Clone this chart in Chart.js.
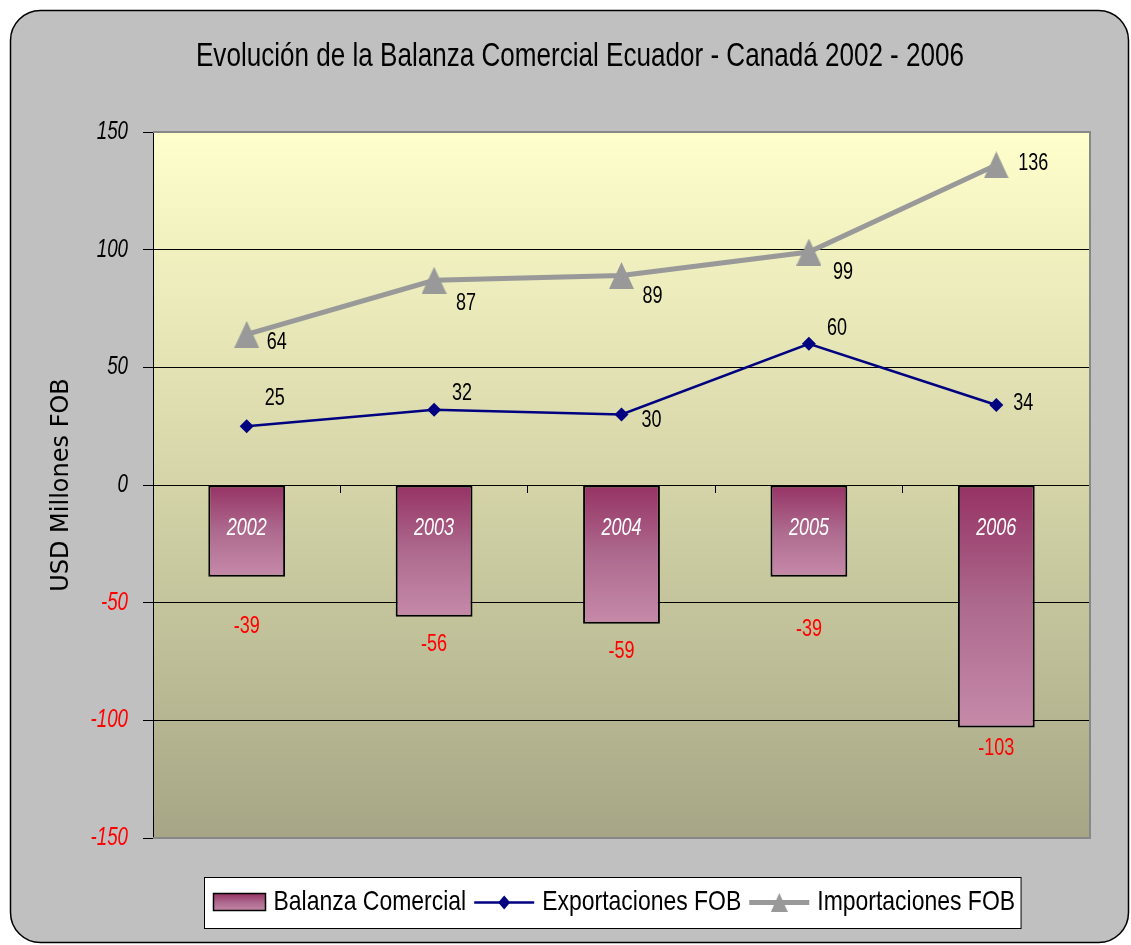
<!DOCTYPE html>
<html><head><meta charset="utf-8">
<script src="https://cdn.jsdelivr.net/npm/chart.js@4.4.0/dist/chart.umd.min.js"></script>
<style>html,body{margin:0;padding:0;background:#fff;}#wrap{width:1131px;height:945px;position:relative;}</style>
</head><body><div id="wrap"><canvas id="c" width="1131" height="945"></canvas></div>
<script>
// ---- data ----
const categories = ['2002', '2003', '2004', '2005', '2006'];
const balanza = [-39, -56, -59, -39, -103];
const exportaciones = [25, 32, 30, 60, 34];
const importaciones = [64, 87, 89, 99, 136];
const yTicks = [-150, -100, -50, 0, 50, 100, 150];
const seriesNames = ['Balanza Comercial', 'Exportaciones FOB', 'Importaciones FOB'];
const titleText = 'Evolución de la Balanza Comercial Ecuador - Canadá 2002 - 2006';
const yTitle = 'USD Millones FOB';

// ---- label placement offsets (px, relative to each drawn element) ----
const balLabelOffsetY = [50, 28, 28, 53, 21];
const expLabelOffset = [[28, -28], [28, -16], [30, 6], [28, -15], [27, -2]];
const impLabelOffset = [[30, 8], [32, 23], [31, 21], [34, 20], [37, -2]];

const SANS = "'Liberation Sans', Arial, sans-serif";
const SX = 0.75; // horizontal condensing to mimic a narrow face
const WIDE = "'DejaVu Sans', Verdana, sans-serif";
const NAVY = '#000080';
const GREY = '#999999';

function narrowFont(size, italic) { return (italic ? 'italic ' : '') + size + 'px ' + SANS; }
function narrowText(ctx, text, x, y, size, color, align, italic, sx) {
  ctx.save();
  ctx.font = narrowFont(size, italic);
  ctx.fillStyle = color;
  ctx.textBaseline = 'middle';
  ctx.textAlign = align || 'center';
  ctx.translate(x, y);
  ctx.scale(sx || SX, 1);
  ctx.fillText(text, 0, 0);
  ctx.restore();
}
function narrowWidth(ctx, text, size, italic, sx) {
  ctx.save(); ctx.font = narrowFont(size, italic);
  const w = ctx.measureText(text).width * (sx || SX);
  ctx.restore();
  return w;
}

function triangleCanvas(w, h, color) {
  const c = document.createElement('canvas');
  c.width = w; c.height = h;
  const x = c.getContext('2d');
  x.fillStyle = color;
  x.beginPath(); x.moveTo(w / 2, 0); x.lineTo(w, h); x.lineTo(0, h); x.closePath(); x.fill();
  return c;
}
const triBig = triangleCanvas(25, 27, GREY);
const triSmall = triangleCanvas(17, 19, GREY);

function barGradient(ctx, y0, y1) {
  const g = ctx.createLinearGradient(0, y0, 0, y1);
  g.addColorStop(0, '#963264');
  g.addColorStop(0.5, '#ad6a8e');
  g.addColorStop(1, '#c68aa9');
  return g;
}

const framePlugin = {
  id: 'frame',
  beforeDraw(chart) {
    const ctx = chart.ctx, ca = chart.chartArea;
    ctx.save();
    ctx.fillStyle = '#fff';
    ctx.fillRect(0, 0, chart.width, chart.height);
    ctx.beginPath();
    ctx.roundRect(10.5, 10.5, 1118, 932, 30);
    ctx.fillStyle = '#c0c0c0';
    ctx.fill();
    ctx.lineWidth = 1.5;
    ctx.strokeStyle = '#000';
    ctx.stroke();
    const g = ctx.createLinearGradient(0, ca.top, 0, ca.bottom);
    g.addColorStop(0, '#ffffcc');
    g.addColorStop(0.5, '#d4d4a8');
    g.addColorStop(1, '#a6a686');
    ctx.fillStyle = g;
    ctx.fillRect(ca.left, ca.top, ca.right - ca.left, ca.bottom - ca.top);
    ctx.restore();
    narrowText(ctx, titleText, 580, 57, 33, '#000', 'center', false, 0.79);
  },
  beforeDatasetsDraw(chart) {
    const ctx = chart.ctx, ca = chart.chartArea;
    ctx.save();
    ctx.strokeStyle = '#888';
    ctx.lineWidth = 2;
    ctx.beginPath();
    ctx.moveTo(ca.left, ca.top); ctx.lineTo(ca.right, ca.top);
    ctx.lineTo(ca.right, ca.bottom); ctx.lineTo(ca.left, ca.bottom);
    ctx.stroke();
    ctx.restore();
  },
  afterDraw(chart) {
    // y tick labels, placed by the y scale
    const ys = chart.scales.y, ctx = chart.ctx;
    ys.ticks.forEach(t => {
      narrowText(ctx, String(t.value), ys.right - 25, ys.getPixelForValue(t.value), 25,
        t.value < 0 ? '#ff0000' : '#000', 'right', true);
    });
  }
};

const labelPlugin = {
  id: 'labels',
  afterDatasetsDraw(chart) {
    const ctx = chart.ctx;
    const bars = chart.getDatasetMeta(0).data;
    const y0 = chart.scales.y.getPixelForValue(0);
    bars.forEach((el, i) => {
      narrowText(ctx, categories[i], el.x, y0 + 43, 24, '#fff', 'center', true);
      narrowText(ctx, String(balanza[i]), el.x, el.y + balLabelOffsetY[i], 24, '#ff0000', 'center', false);
    });
    chart.getDatasetMeta(1).data.forEach((el, i) => {
      narrowText(ctx, String(exportaciones[i]), el.x + expLabelOffset[i][0], el.y + expLabelOffset[i][1], 24, '#000', 'center', false);
    });
    chart.getDatasetMeta(2).data.forEach((el, i) => {
      narrowText(ctx, String(importaciones[i]), el.x + impLabelOffset[i][0], el.y + impLabelOffset[i][1], 24, '#000', 'center', false);
    });
  }
};

const legendPlugin = {
  id: 'customLegend',
  afterDraw(chart) {
    const ctx = chart.ctx;
    const FS = 28, LSX = 0.82;
    const tw = seriesNames.map(t => narrowWidth(ctx, t, FS, false, LSX));
    const swatchW = 52, lineW = 60, gapA = 8, gapB = 8, padL = 9, padR = 6;
    const total = padL + swatchW + gapA + tw[0] + gapB + lineW + gapA + tw[1] + gapB + lineW + gapA + tw[2] + padR;
    const cx = 612, top = 877, h = 51, cy = top + h / 2;
    const left = Math.round(cx - total / 2) + 0.5;
    ctx.save();
    ctx.fillStyle = '#fff';
    ctx.fillRect(left, top + 0.5, total, h);
    ctx.strokeStyle = '#000';
    ctx.lineWidth = 1;
    ctx.strokeRect(left, top + 0.5, total, h);
    let x = left + padL;
    ctx.fillStyle = barGradient(ctx, cy - 9, cy + 9);
    ctx.fillRect(x, cy - 9, swatchW, 17);
    ctx.lineWidth = 1.5;
    ctx.strokeRect(x, cy - 9, swatchW, 17);
    ctx.restore();
    x += swatchW + gapA;
    narrowText(ctx, seriesNames[0], x, cy, FS, '#000', 'left', false, LSX);
    x += tw[0] + gapB;
    ctx.save();
    ctx.strokeStyle = NAVY; ctx.lineWidth = 2.5;
    ctx.beginPath(); ctx.moveTo(x, cy); ctx.lineTo(x + lineW, cy); ctx.stroke();
    ctx.fillStyle = NAVY;
    const dx = x + lineW / 2;
    ctx.beginPath(); ctx.moveTo(dx, cy - 7); ctx.lineTo(dx + 6, cy); ctx.lineTo(dx, cy + 7); ctx.lineTo(dx - 6, cy); ctx.closePath(); ctx.fill();
    ctx.restore();
    x += lineW + gapA;
    narrowText(ctx, seriesNames[1], x, cy, FS, '#000', 'left', false, LSX);
    x += tw[1] + gapB;
    ctx.save();
    ctx.strokeStyle = GREY; ctx.lineWidth = 5;
    ctx.beginPath(); ctx.moveTo(x, cy); ctx.lineTo(x + lineW, cy); ctx.stroke();
    ctx.drawImage(triSmall, x + lineW / 2 - triSmall.width / 2, cy - triSmall.height / 2);
    ctx.restore();
    x += lineW + gapA;
    narrowText(ctx, seriesNames[2], x, cy, FS, '#000', 'left', false, LSX);
  }
};

new Chart(document.getElementById('c'), {
  data: {
    labels: categories,
    datasets: [
      {
        type: 'bar', label: seriesNames[0], data: balanza, order: 3,
        backgroundColor: (c) => {
          const chart = c.chart;
          if (!chart.chartArea || c.type !== 'data') return '#b06890';
          const ys = chart.scales.y;
          return barGradient(chart.ctx, ys.getPixelForValue(0), ys.getPixelForValue(c.raw));
        },
        borderColor: '#000', borderWidth: 2, borderSkipped: false,
        barPercentage: 1, categoryPercentage: 0.41
      },
      {
        type: 'line', label: seriesNames[1], data: exportaciones, order: 2,
        borderColor: NAVY, borderWidth: 2.5, backgroundColor: NAVY,
        pointStyle: 'rectRot', pointRadius: 7, pointBorderWidth: 0,
        pointBackgroundColor: NAVY, tension: 0
      },
      {
        type: 'line', label: seriesNames[2], data: importaciones, order: 1,
        borderColor: GREY, borderWidth: 5, backgroundColor: GREY,
        pointStyle: triBig, pointRadius: 13, tension: 0
      }
    ]
  },
  options: {
    responsive: false,
    animation: false,
    devicePixelRatio: 1,
    layout: { padding: { left: 0, right: 41, top: 132, bottom: 107 } },
    plugins: {
      legend: { display: false },
      tooltip: { enabled: false },
      title: { display: false }
    },
    scales: {
      x: {
        type: 'category',
        position: { y: 0 },
        offset: true,
        grid: { offset: true, drawOnChartArea: false, drawTicks: true, tickLength: 7, color: '#000', tickColor: '#000' },
        ticks: { display: false },
        border: { color: '#000', width: 1 }
      },
      y: {
        min: -150, max: 150,
        afterBuildTicks: (s) => { s.ticks = yTicks.map(v => ({ value: v })); },
        afterFit: (s) => { s.width = 153; },
        grid: {
          color: (c) => (c.tick && Math.abs(c.tick.value) === 150) ? 'rgba(0,0,0,0)' : '#000',
          tickColor: '#000', tickLength: 10, lineWidth: 1
        },
        border: { color: '#000', width: 1 },
        ticks: { display: false },
        title: {
          display: true, text: yTitle, color: '#000',
          font: { family: WIDE, size: 24 },
          padding: { top: 47, bottom: 0 }
        }
      }
    }
  },
  plugins: [framePlugin, labelPlugin, legendPlugin]
});
</script>
</body></html>
